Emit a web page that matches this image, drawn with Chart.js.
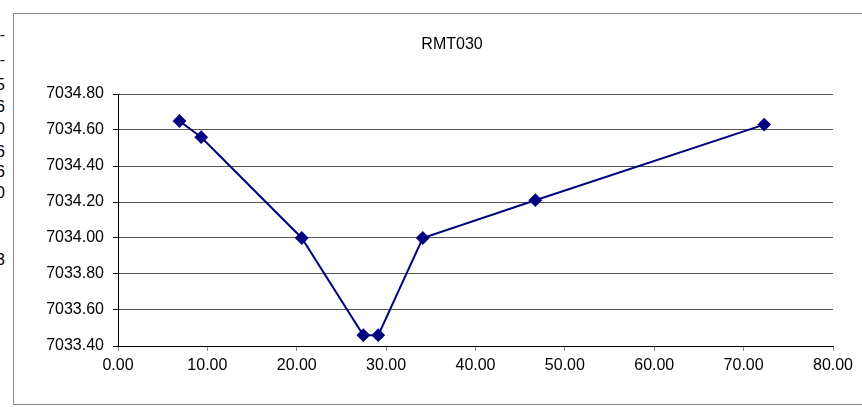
<!DOCTYPE html>
<html>
<head>
<meta charset="utf-8">
<script src="https://cdn.jsdelivr.net/npm/chart.js@4/dist/chart.umd.min.js"></script>
<style>
    html, body { margin: 0; padding: 0; background: #fff; }
    #wrap { position: relative; width: 862px; height: 407px; overflow: hidden; font-family: "Liberation Sans", Arial, sans-serif; }
    #frame { position: absolute; left: 13px; top: 13px; width: 900px; height: 390px; border: 1px solid #888; }
    #chart { position: absolute; left: 0; top: 0; }
    .frag { position: absolute; right: 857px; font-size: 16px; color: #000; line-height: 16px; white-space: nowrap; }
</style>
</head>
<body>
<div id="wrap">
    <div id="frame"></div>
    <div id="frags"></div>
    <canvas id="chart" width="862" height="407"></canvas>
</div>
<script>
// chart title and data
const chartTitle = 'RMT030';
const distance = [6.88, 9.31, 20.56, 27.45, 29.12, 34.1, 46.7, 72.3];
const elevation = [7034.65, 7034.56, 7034.00, 7033.46, 7033.46, 7034.00, 7034.21, 7034.63];
const xTicks = { min: 0, max: 80, step: 10 };
const yTicks = { min: 7033.4, max: 7034.8, step: 0.2 };

// clipped text bits of a neighbouring column visible at the left edge
const leftFragments = ['-', '-', '5', '6', '0', '6', '6', '0', '3'];
const leftFragmentRows = [35, 60, 85, 107, 129, 152, 172, 193, 260];

(function () {
    const fragBox = document.getElementById('frags');
    leftFragments.forEach((t, i) => {
        const d = document.createElement('div');
        d.className = 'frag';
        d.textContent = t;
        d.style.top = (leftFragmentRows[i] - 8) + 'px';
        fragBox.appendChild(d);
    });

    const font = { family: '"Liberation Sans", Arial, sans-serif', size: 16 };

    // title drawn by hand so it can sit off the plot centre like the original
    const titlePlugin = {
        id: 'rmtTitle',
        afterDraw(chart) {
            const c = chart.ctx;
            c.save();
            c.font = '16px "Liberation Sans", Arial, sans-serif';
            c.fillStyle = '#000';
            c.textAlign = 'center';
            c.textBaseline = 'middle';
            c.fillText(chartTitle, 452, 45);
            c.restore();
        }
    };

    new Chart(document.getElementById('chart').getContext('2d'), {
        type: 'scatter',
        data: {
            datasets: [{
                data: distance.map((x, i) => ({ x, y: elevation[i] })),
                showLine: true,
                borderColor: '#000080',
                backgroundColor: '#000080',
                borderWidth: 2,
                pointStyle: 'rectRot',
                pointRadius: 5.5,
                pointHoverRadius: 5.5,
                tension: 0
            }]
        },
        options: {
            responsive: false,
            animation: false,
            layout: { padding: { top: 94, right: 29, left: 0, bottom: 0 } },
            plugins: { legend: { display: false }, tooltip: { enabled: false } },
            scales: {
                x: {
                    type: 'linear',
                    min: xTicks.min, max: xTicks.max,
                    afterFit(s) { s.height = 61; },
                    ticks: { stepSize: xTicks.step, color: '#000', font, padding: 5, maxRotation: 0,
                        callback: v => Number(v).toFixed(2) },
                    grid: { drawOnChartArea: false, color: '#888', tickLength: 5 },
                    border: { color: '#000', width: 1 }
                },
                y: {
                    type: 'linear',
                    min: yTicks.min, max: yTicks.max,
                    afterFit(s) { s.width = 118; },
                    ticks: { stepSize: yTicks.step, color: '#000', font, padding: 9,
                        callback: v => Number(v).toFixed(2) },
                    grid: { color: '#555', tickColor: '#000', tickLength: 5 },
                    border: { color: '#000', width: 1 }
                }
            }
        },
        plugins: [titlePlugin]
    });
})();
</script>
</body>
</html>
